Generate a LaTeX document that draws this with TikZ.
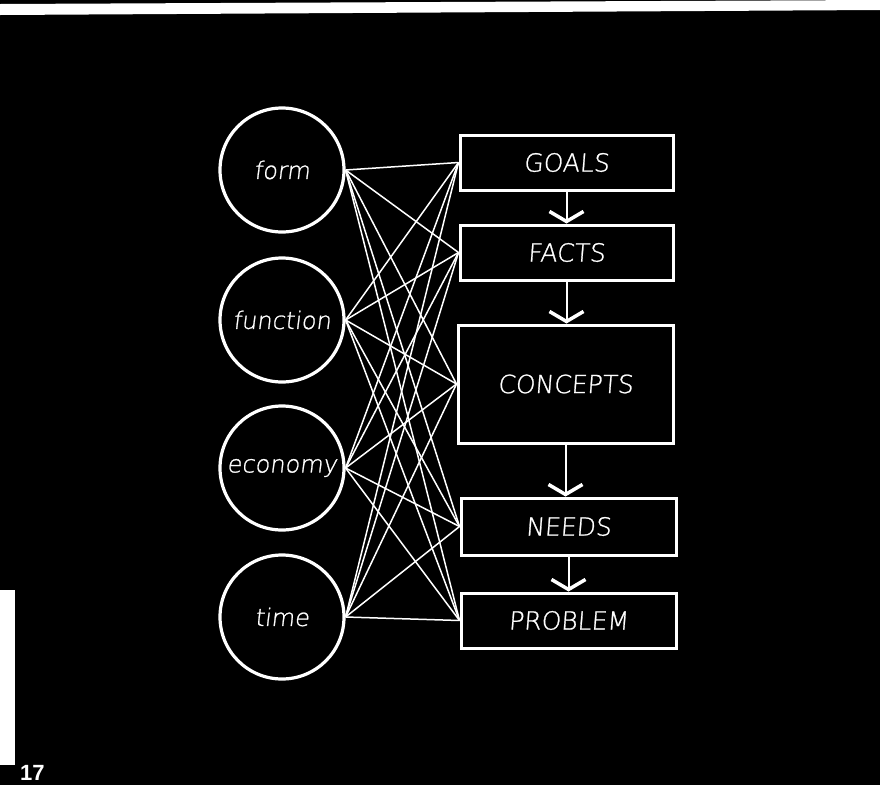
\documentclass[tikz,border=0pt]{standalone}
\usepackage{fontspec}
\setmainfont{Liberation Sans}
\newfontfamily\hand[FakeSlant=0.12,FakeBold=1]{DejaVu Sans ExtraLight}
\newfontfamily\handcaps[FakeSlant=0.08,FakeBold=1]{DejaVu Sans ExtraLight}
\usetikzlibrary{arrows.meta}
\tikzset{
  circ/.style={circle, draw=white, line width=3.2pt, minimum size=124pt, inner sep=0pt,
    text=white, font=\hand\fontsize{24}{24}\selectfont},
  boxnode/.style={rectangle, draw=white, line width=3pt, minimum width=213pt, inner sep=0pt,
    text=white, font=\handcaps\fontsize{25}{25}\selectfont},
  link/.style={draw=white, line width=1.5pt},
  flow/.style={draw=white, line width=2pt, -{Straight Barb[length=10pt,width=34pt,line width=3.5pt]}}
}
\begin{document}
\begin{tikzpicture}[x=1pt,y=-1pt]
\useasboundingbox (0,0) rectangle (880,785);
\fill[black] (0,0) rectangle (880,785);
% scan edges
\fill[white] (0,4) -- (880,0) -- (880,10) -- (0,15) -- cycle;
\fill[white] (0,590) rectangle (15,765);
\node[anchor=north west, inner sep=0pt, text=white, font=\bfseries\fontsize{22}{22}\selectfont] (pg) at (20,765) {17};
% circles
\node[circ] (form) at (282,170) {form};
\node[circ] (function) at (282,320) {function};
\node[circ] (economy) at (282,468) {economy};
\node[circ] (time) at (282,617) {time};
% boxes
\node[boxnode, minimum height=55pt] (goals) at (566.5,162.5) {GOALS};
\node[boxnode, minimum height=55pt] (facts) at (566.5,252.5) {FACTS};
\node[boxnode, minimum width=215pt, minimum height=118pt] (concepts) at (565.5,384) {CONCEPTS};
\node[boxnode, minimum width=215pt, minimum height=57pt] (needs) at (568.5,526.5) {NEEDS};
\node[boxnode, minimum width=215pt, minimum height=55pt] (problem) at (568.5,620.5) {PROBLEM};
% links
\foreach \c in {form,function,economy,time}
  \foreach \b in {goals,facts,concepts,needs,problem}
    \draw[link] (\c.east) -- (\b.west);
% flow arrows
\draw[flow] (goals.south) -- (goals.south |- facts.north);
\draw[flow] (facts.south) -- (facts.south |- concepts.north);
\draw[flow] (concepts.south) -- (concepts.south |- needs.north);
\draw[flow] (needs.south) -- (needs.south |- problem.north);
\end{tikzpicture}
\end{document}
